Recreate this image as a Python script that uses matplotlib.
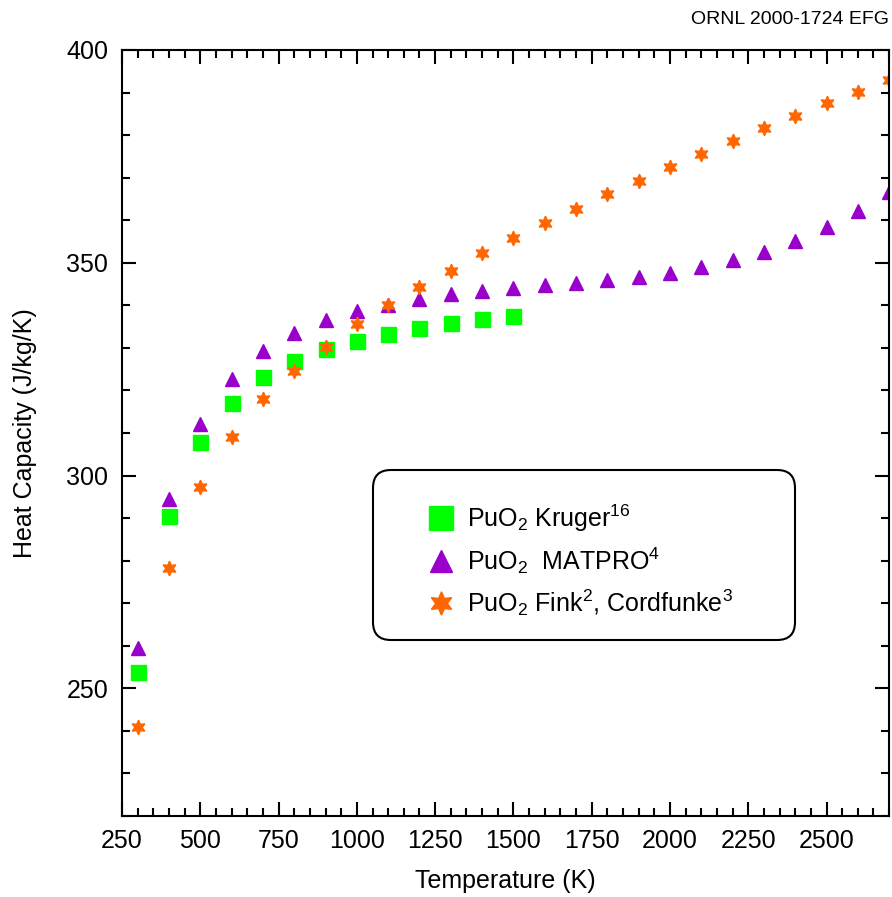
import matplotlib
matplotlib.use("Agg")
import matplotlib.pyplot as plt
from matplotlib.ticker import MultipleLocator
from matplotlib.patches import FancyBboxPatch

plt.rcParams['font.family'] = ['Liberation Sans', 'DejaVu Sans']
plt.rcParams['mathtext.fontset'] = 'custom'
plt.rcParams['mathtext.rm'] = 'Liberation Sans'
plt.rcParams['mathtext.it'] = 'Liberation Sans'

# PuO2 Kruger
t_kruger = [300, 400, 500, 600, 700, 800, 900, 1000, 1100, 1200, 1300, 1400, 1500]
cp_kruger = [253.9, 290.5, 307.8, 317.1, 323.1, 327.0, 329.7, 331.7, 333.2, 334.7, 335.8, 336.7, 337.6]

# PuO2 MATPRO
t_matpro = [300, 400, 500, 600, 700, 800, 900, 1000, 1100, 1200, 1300, 1400, 1500,
            1600, 1700, 1800, 1900, 2000, 2100, 2200, 2300, 2400, 2500, 2600, 2700]
cp_matpro = [259.4, 294.4, 312.2, 322.8, 329.2, 333.5, 336.5, 338.7, 340.1, 341.5, 342.6, 343.4, 344.1,
             344.8, 345.3, 345.9, 346.7, 347.7, 348.9, 350.6, 352.6, 355.2, 358.3, 362.2, 366.7]

# PuO2 Fink, Cordfunke
t_fink = t_matpro
cp_fink = [240.9, 278.2, 297.2, 309.1, 317.9, 324.6, 330.3, 335.6, 340.1, 344.4, 348.1, 352.2, 355.7,
           359.4, 362.7, 366.1, 369.3, 372.6, 375.6, 378.7, 381.6, 384.6, 387.5, 390.2, 392.9]

fig = plt.figure(figsize=(8.92, 8.97), dpi=100)
ax = fig.add_axes([0.1368, 0.0903, 0.86, 0.854])

ax.plot(t_kruger, cp_kruger, linestyle='none', marker='s', markersize=10.8,
        color='#00ff00', label=r'PuO$_2$ Kruger$^{16}$')
ax.plot(t_matpro, cp_matpro, linestyle='none', marker='^', markersize=9.6,
        color='#9900cc', label=r'PuO$_2$  MATPRO$^4$')
ax.plot(t_fink, cp_fink, linestyle='none', marker=(6, 1, 0), markersize=10.5,
        color='#ff6600', label=r'PuO$_2$ Fink$^2$, Cordfunke$^3$')

ax.set_xlim(250, 2700)
ax.set_ylim(220, 400)
ax.set_xticks([250, 500, 750, 1000, 1250, 1500, 1750, 2000, 2250, 2500])
ax.set_yticks([250, 300, 350, 400])
ax.xaxis.set_minor_locator(MultipleLocator(50))
ax.yaxis.set_minor_locator(MultipleLocator(10))
ax.tick_params(which='both', direction='in', top=True, right=True, width=1.5)
ax.tick_params(which='major', length=10, labelsize=18)
ax.tick_params(which='minor', length=6)
ax.tick_params(axis='y', which='major', pad=10)
ax.tick_params(axis='x', which='major', pad=9)
for s in ax.spines.values():
    s.set_linewidth(1.5)

ax.set_xlabel('Temperature (K)', fontsize=18, labelpad=12)
ax.set_ylabel('Heat Capacity (J/kg/K)', fontsize=18, labelpad=21)

# legend box drawn separately so its padding can follow the original
box = FancyBboxPatch((373 / 892, 1 - 640 / 897), 422 / 892, 170 / 897,
                     boxstyle='round,pad=0,rounding_size=0.02', transform=fig.transFigure,
                     facecolor='white', edgecolor='black', linewidth=1.5,
                     zorder=3, clip_on=False)
ax.add_patch(box)

leg = ax.legend(loc='center left', bbox_to_anchor=(428 / 892, 1 - 560 / 897),
                bbox_transform=fig.transFigure, frameon=False,
                fontsize=18, markerscale=1.6, borderpad=0, borderaxespad=0,
                labelspacing=0.45, handletextpad=0.55, handlelength=1.0)
leg.set_zorder(4)

fig.text(0.997, 1 - 20 / 897, 'ORNL 2000-1724 EFG', ha='right', va='center', fontsize=14)

fig.savefig('out.png', dpi=100)
